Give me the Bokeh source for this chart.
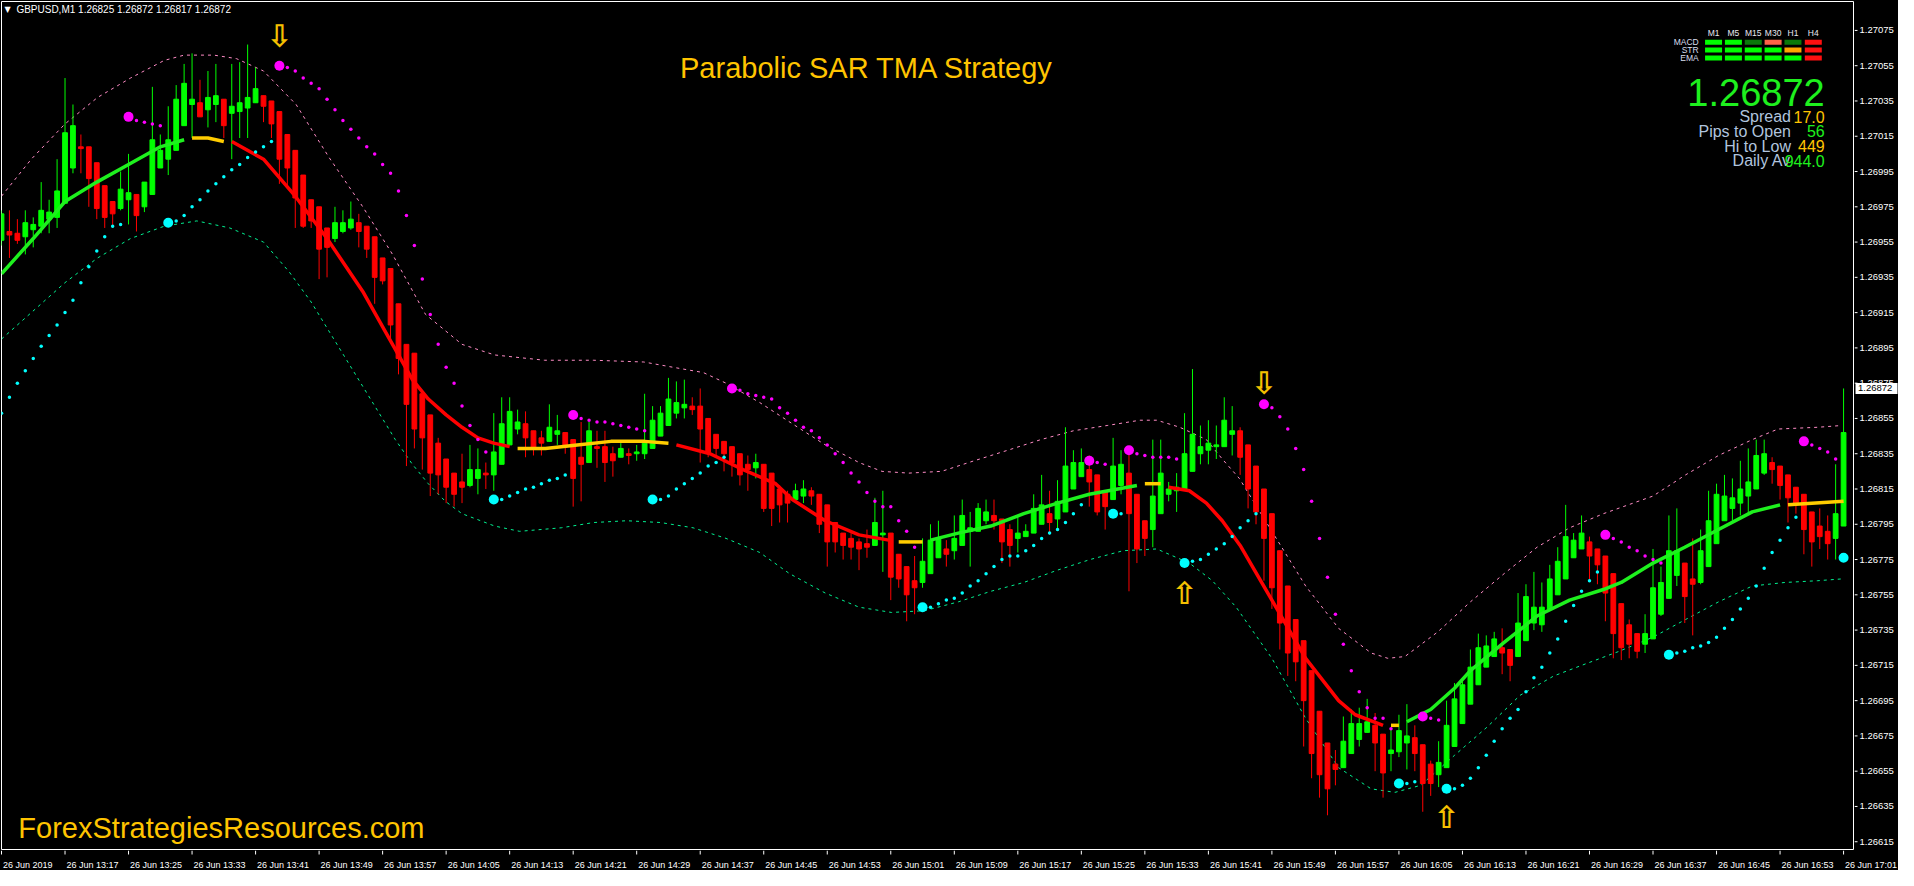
from bokeh.plotting import figure
from bokeh.layouts import column, row
from bokeh.models import Range1d, ColumnDataSource
from bokeh.core.properties import value
from bokeh.embed import file_html
from bokeh.resources import INLINE

# ---------------- data ----------------
symbol = "GBPUSD,M1"
header_ohlc = ["1.26825", "1.26872", "1.26817", "1.26872"]
chart_title = "Parabolic SAR TMA Strategy"
watermark = "ForexStrategiesResources.com"

label_bars = [0, 8, 16, 24, 32, 40, 48, 56, 64, 72, 80, 88, 96, 104, 112, 120, 128, 136,
              144, 152, 160, 168, 176, 184, 192, 200, 208, 216, 224, 232]
time_labels = ["26 Jun 2019", "26 Jun 13:17", "26 Jun 13:25", "26 Jun 13:33", "26 Jun 13:41",
               "26 Jun 13:49", "26 Jun 13:57", "26 Jun 14:05", "26 Jun 14:13", "26 Jun 14:21",
               "26 Jun 14:29", "26 Jun 14:37", "26 Jun 14:45", "26 Jun 14:53", "26 Jun 15:01",
               "26 Jun 15:09", "26 Jun 15:17", "26 Jun 15:25", "26 Jun 15:33", "26 Jun 15:41",
               "26 Jun 15:49", "26 Jun 15:57", "26 Jun 16:05", "26 Jun 16:13", "26 Jun 16:21",
               "26 Jun 16:29", "26 Jun 16:37", "26 Jun 16:45", "26 Jun 16:53", "26 Jun 17:01"]
price_ticks = [1.26615, 1.26635, 1.26655, 1.26675, 1.26695, 1.26715, 1.26735, 1.26755,
               1.26775, 1.26795, 1.26815, 1.26835, 1.26855, 1.26875, 1.26895, 1.26915,
               1.26935, 1.26955, 1.26975, 1.26995, 1.27015, 1.27035, 1.27055, 1.27075]

opens = [1.26956,1.26961,1.26960,1.26958,1.26962,1.26964,1.26968,1.26969,1.26977,1.26997,
 1.27009,1.27009,1.27000,1.26987,1.26978,1.26974,1.26979,1.26982,1.26975,1.26982,
 1.26997,1.27002,1.27007,1.27021,1.27033,1.27034,1.27030,1.27033,1.27036,1.27028,
 1.27029,1.27031,1.27034,1.27038,1.27035,1.27029,1.27016,1.27007,1.26993,1.26979,
 1.26975,1.26963,1.26957,1.26961,1.26963,1.26966,1.26964,1.26958,1.26946,1.26940,
 1.26920,1.26897,1.26892,1.26869,1.26857,1.26841,1.26832,1.26824,1.26819,1.26817,
 1.26821,1.26824,1.26823,1.26829,1.26840,1.26849,1.26852,1.26848,1.26844,1.26842,
 1.26846,1.26847,1.26843,1.26833,1.26830,1.26839,1.26839,1.26835,1.26833,1.26835,
 1.26835,1.26835,1.26838,1.26845,1.26851,1.26858,1.26861,1.26862,1.26862,1.26855,
 1.26846,1.26842,1.26839,1.26835,1.26829,1.26827,1.26829,1.26824,1.26815,1.26812,
 1.26809,1.26811,1.26814,1.26812,1.26806,1.26796,1.26790,1.26787,1.26785,1.26784,
 1.26783,1.26789,1.26790,1.26778,1.26771,1.26763,1.26762,1.26767,1.26776,1.26781,
 1.26780,1.26783,1.26791,1.26791,1.26797,1.26800,1.26798,1.26792,1.26787,1.26788,
 1.26790,1.26795,1.26801,1.26798,1.26802,1.26815,1.26822,1.26826,1.26823,1.26814,
 1.26809,1.26817,1.26824,1.26812,1.26797,1.26792,1.26801,1.26812,1.26814,1.26815,
 1.26825,1.26835,1.26837,1.26839,1.26839,1.26846,1.26848,1.26840,1.26828,1.26815,
 1.26801,1.26780,1.26760,1.26741,1.26729,1.26712,1.26689,1.26671,1.26659,1.26657,
 1.26665,1.26673,1.26677,1.26681,1.26676,1.26665,1.26666,1.26671,1.26674,1.26670,
 1.26659,1.26653,1.26657,1.26669,1.26682,1.26693,1.26704,1.26714,1.26720,1.26725,
 1.26724,1.26720,1.26729,1.26739,1.26738,1.26747,1.26755,1.26764,1.26776,1.26781,
 1.26785,1.26781,1.26777,1.26767,1.26750,1.26738,1.26733,1.26727,1.26730,1.26744,
 1.26753,1.26766,1.26773,1.26764,1.26762,1.26771,1.26784,1.26797,1.26804,1.26807,
 1.26811,1.26815,1.26824,1.26830,1.26828,1.26823,1.26816,1.26812,1.26802,1.26794,
 1.26791,1.26787,1.26794]

highs = [1.26973,1.26973,1.26968,1.26973,1.26969,1.26989,1.26979,1.27002,1.27048,1.27033,
 1.27016,1.27009,1.27000,1.26987,1.26978,1.26995,1.27005,1.26982,1.26989,1.27043,
 1.27016,1.27032,1.27044,1.27056,1.27062,1.27047,1.27052,1.27056,1.27036,1.27056,
 1.27057,1.27067,1.27054,1.27038,1.27035,1.27029,1.27016,1.27007,1.26993,1.26979,
 1.26975,1.26963,1.26975,1.26973,1.26978,1.26971,1.26964,1.26958,1.26946,1.26940,
 1.26920,1.26897,1.26892,1.26869,1.26857,1.26844,1.26832,1.26824,1.26835,1.26840,
 1.26838,1.26830,1.26858,1.26867,1.26867,1.26860,1.26859,1.26848,1.26848,1.26863,
 1.26857,1.26847,1.26843,1.26853,1.26853,1.26848,1.26848,1.26839,1.26841,1.26838,
 1.26840,1.26869,1.26862,1.26862,1.26878,1.26876,1.26877,1.26867,1.26872,1.26855,
 1.26846,1.26842,1.26839,1.26835,1.26834,1.26835,1.26829,1.26824,1.26817,1.26814,
 1.26818,1.26820,1.26816,1.26812,1.26806,1.26796,1.26790,1.26790,1.26787,1.26792,
 1.26810,1.26814,1.26790,1.26778,1.26771,1.26777,1.26787,1.26795,1.26797,1.26786,
 1.26800,1.26809,1.26802,1.26807,1.26809,1.26809,1.26798,1.26795,1.26800,1.26795,
 1.26812,1.26823,1.26814,1.26820,1.26850,1.26837,1.26838,1.26834,1.26823,1.26814,
 1.26844,1.26837,1.26837,1.26812,1.26797,1.26843,1.26843,1.26819,1.26824,1.26858,
 1.26883,1.26851,1.26854,1.26851,1.26867,1.26862,1.26850,1.26840,1.26828,1.26815,
 1.26801,1.26780,1.26760,1.26741,1.26729,1.26712,1.26689,1.26671,1.26667,1.26686,
 1.26690,1.26691,1.26696,1.26688,1.26676,1.26679,1.26687,1.26693,1.26681,1.26670,
 1.26661,1.26672,1.26695,1.26705,1.26706,1.26724,1.26733,1.26732,1.26734,1.26736,
 1.26724,1.26756,1.26761,1.26768,1.26762,1.26772,1.26782,1.26806,1.26790,1.26800,
 1.26788,1.26781,1.26777,1.26767,1.26750,1.26741,1.26733,1.26744,1.26781,1.26771,
 1.26800,1.26804,1.26773,1.26787,1.26792,1.26814,1.26818,1.26823,1.26821,1.26831,
 1.26838,1.26843,1.26843,1.26833,1.26828,1.26823,1.26816,1.26812,1.26802,1.26804,
 1.26800,1.26829,1.26872]

lows = [1.26953,1.26946,1.26954,1.26948,1.26952,1.26960,1.26960,1.26963,1.26977,1.26994,
 1.26994,1.26975,1.26968,1.26963,1.26963,1.26973,1.26965,1.26961,1.26972,1.26982,
 1.26997,1.26993,1.27007,1.27021,1.27014,1.27026,1.27020,1.27023,1.27014,1.27002,
 1.27014,1.27014,1.27034,1.27023,1.27014,1.26988,1.26987,1.26963,1.26963,1.26963,
 1.26934,1.26935,1.26955,1.26960,1.26962,1.26952,1.26946,1.26920,1.26931,1.26900,
 1.26880,1.26828,1.26838,1.26826,1.26811,1.26812,1.26807,1.26805,1.26807,1.26816,
 1.26812,1.26815,1.26814,1.26829,1.26840,1.26846,1.26833,1.26834,1.26834,1.26842,
 1.26840,1.26835,1.26805,1.26808,1.26830,1.26827,1.26819,1.26822,1.26833,1.26829,
 1.26831,1.26832,1.26838,1.26845,1.26851,1.26855,1.26855,1.26857,1.26830,1.26833,
 1.26834,1.26825,1.26822,1.26817,1.26814,1.26821,1.26802,1.26794,1.26796,1.26796,
 1.26809,1.26807,1.26806,1.26790,1.26771,1.26779,1.26775,1.26775,1.26769,1.26776,
 1.26783,1.26768,1.26752,1.26759,1.26740,1.26744,1.26759,1.26767,1.26776,1.26771,
 1.26775,1.26783,1.26771,1.26791,1.26795,1.26792,1.26773,1.26771,1.26779,1.26788,
 1.26790,1.26795,1.26789,1.26792,1.26802,1.26815,1.26822,1.26805,1.26800,1.26792,
 1.26809,1.26812,1.26757,1.26773,1.26777,1.26782,1.26801,1.26808,1.26802,1.26815,
 1.26825,1.26829,1.26829,1.26832,1.26839,1.26834,1.26823,1.26804,1.26795,1.26763,
 1.26747,1.26724,1.26709,1.26706,1.26669,1.26651,1.26640,1.26630,1.26647,1.26657,
 1.26665,1.26669,1.26677,1.26655,1.26640,1.26655,1.26663,1.26656,1.26655,1.26632,
 1.26641,1.26646,1.26657,1.26669,1.26682,1.26693,1.26704,1.26714,1.26720,1.26710,
 1.26706,1.26720,1.26729,1.26735,1.26734,1.26747,1.26755,1.26764,1.26776,1.26781,
 1.26763,1.26761,1.26740,1.26719,1.26718,1.26719,1.26719,1.26722,1.26730,1.26743,
 1.26753,1.26760,1.26739,1.26732,1.26761,1.26771,1.26784,1.26797,1.26797,1.26800,
 1.26801,1.26815,1.26823,1.26818,1.26809,1.26796,1.26801,1.26778,1.26771,1.26781,
 1.26775,1.26775,1.26794]

closes = [1.26971,1.26959,1.26956,1.26966,1.26965,1.26973,1.26972,1.26984,1.27017,1.27021,
 1.27008,1.26991,1.26974,1.26969,1.26971,1.26985,1.26983,1.26970,1.26989,1.27013,
 1.27007,1.27013,1.27036,1.27045,1.27036,1.27026,1.27037,1.27038,1.27021,1.27032,
 1.27034,1.27037,1.27042,1.27032,1.27022,1.27002,1.26997,1.26980,1.26964,1.26967,
 1.26951,1.26952,1.26966,1.26966,1.26968,1.26961,1.26951,1.26935,1.26933,1.26908,
 1.26889,1.26863,1.26849,1.26844,1.26824,1.26823,1.26816,1.26812,1.26816,1.26826,
 1.26826,1.26823,1.26836,1.26852,1.26859,1.26853,1.26844,1.26838,1.26841,1.26850,
 1.26848,1.26839,1.26821,1.26829,1.26848,1.26838,1.26830,1.26831,1.26838,1.26834,
 1.26836,1.26841,1.26854,1.26858,1.26866,1.26864,1.26863,1.26860,1.26849,1.26836,
 1.26838,1.26835,1.26830,1.26823,1.26826,1.26830,1.26804,1.26804,1.26806,1.26807,
 1.26814,1.26815,1.26811,1.26795,1.26785,1.26785,1.26783,1.26782,1.26781,1.26782,
 1.26796,1.26790,1.26765,1.26764,1.26755,1.26759,1.26774,1.26786,1.26787,1.26778,
 1.26787,1.26800,1.26793,1.26804,1.26802,1.26797,1.26785,1.26783,1.26790,1.26791,
 1.26804,1.26806,1.26796,1.26808,1.26828,1.26830,1.26830,1.26819,1.26802,1.26805,
 1.26828,1.26829,1.26801,1.26781,1.26787,1.26811,1.26824,1.26815,1.26816,1.26835,
 1.26846,1.26839,1.26841,1.26840,1.26854,1.26848,1.26833,1.26815,1.26802,1.26787,
 1.26759,1.26739,1.26722,1.26717,1.26695,1.26665,1.26653,1.26645,1.26656,1.26672,
 1.26682,1.26682,1.26683,1.26671,1.26654,1.26667,1.26678,1.26675,1.26665,1.26648,
 1.26648,1.26660,1.26681,1.26696,1.26704,1.26714,1.26725,1.26726,1.26730,1.26722,
 1.26715,1.26739,1.26754,1.26748,1.26748,1.26764,1.26774,1.26788,1.26786,1.26790,
 1.26777,1.26772,1.26756,1.26733,1.26725,1.26727,1.26723,1.26733,1.26759,1.26762,
 1.26780,1.26780,1.26754,1.26761,1.26780,1.26797,1.26812,1.26811,1.26810,1.26815,
 1.26819,1.26834,1.26835,1.26826,1.26817,1.26810,1.26807,1.26792,1.26785,1.26788,
 1.26784,1.26801,1.26847]

sar = [1.26858,1.26867,1.26875,1.26882,1.26889,1.26896,1.26902,1.26908,1.26915,1.26922,
 1.26932,1.26941,1.26950,1.26958,1.26964,1.26965,1.27026,1.27024,1.27023,1.27022,
 1.27021,1.26966,1.26967,1.26970,1.26975,1.26979,1.26984,1.26988,1.26992,1.26996,
 1.26999,1.27003,1.27006,1.27009,1.27012,1.27055,1.27054,1.27052,1.27048,1.27045,
 1.27042,1.27036,1.27030,1.27024,1.27019,1.27014,1.27009,1.27005,1.26999,1.26994,
 1.26984,1.26970,1.26953,1.26934,1.26914,1.26897,1.26884,1.26875,1.26862,1.26851,
 1.26843,1.26836,1.26809,1.26809,1.26811,1.26813,1.26815,1.26816,1.26818,1.26820,
 1.26821,1.26823,1.26857,1.26855,1.26854,1.26853,1.26853,1.26852,1.26851,1.26850,
 1.26849,1.26848,1.26809,1.26809,1.26811,1.26815,1.26818,1.26821,1.26824,1.26828,
 1.26830,1.26833,1.26872,1.26871,1.26869,1.26868,1.26867,1.26866,1.26861,1.26858,
 1.26854,1.26850,1.26848,1.26844,1.26840,1.26835,1.26830,1.26824,1.26819,1.26813,
 1.26808,1.26805,1.26805,1.26797,1.26791,1.26782,1.26748,1.26748,1.26750,1.26752,
 1.26753,1.26756,1.26760,1.26763,1.26767,1.26771,1.26775,1.26777,1.26777,1.26780,
 1.26783,1.26787,1.26790,1.26792,1.26796,1.26801,1.26806,1.26831,1.26830,1.26829,
 1.26801,1.26801,1.26837,1.26835,1.26834,1.26833,1.26833,1.26833,1.26832,1.26773,
 1.26774,1.26775,1.26778,1.26781,1.26784,1.26788,1.26793,1.26797,1.26801,1.26863,
 1.26861,1.26856,1.26849,1.26838,1.26826,1.26808,1.26787,1.26765,1.26744,1.26727,
 1.26712,1.26700,1.26691,1.26685,1.26685,1.26679,1.26648,1.26648,1.26649,1.26686,
 1.26685,1.26684,1.26645,1.26645,1.26647,1.26651,1.26657,1.26664,1.26672,1.26679,
 1.26685,1.26690,1.26700,1.26708,1.26714,1.26722,1.26730,1.26740,1.26749,1.26757,
 1.26763,1.26768,1.26789,1.26787,1.26785,1.26782,1.26780,1.26777,1.26775,1.26773,
 1.26721,1.26722,1.26723,1.26725,1.26726,1.26728,1.26731,1.26736,1.26741,1.26747,
 1.26753,1.26760,1.26770,1.26779,1.26786,1.26793,1.26799,1.26842,1.26840,1.26838,
 1.26836,1.26832,1.26776]

# TMA centre line, read at points along the curve; one colour state per segment
tma_bars = [0, 4, 8, 12, 16, 20, 23,
            24, 26, 28,
            29, 33, 37, 41, 45.5, 48.5, 51.75, 53.75, 56, 58, 60, 62, 64,
            65, 68.5, 72.5, 76.75, 81, 84,
            85, 89.25, 93.4, 97.5, 99.6, 103.75, 108, 111.75,
            113, 116,
            117, 120.5, 124.6, 128.75, 133, 137, 143,
            144, 146,
            147, 149.6, 151.75, 153.75, 156, 160, 164.25, 168.4, 170.5, 174,
            175, 176,
            177, 180, 183, 185, 189.25, 193.4, 197.5, 201.75, 204, 208, 212, 216.25, 220.5, 224,
            225, 232]
tma_prices = [1.26937, 1.26957, 1.26978, 1.26989, 1.26999, 1.27009, 1.27013,
              1.27014, 1.27014, 1.27012,
              1.27012, 1.27002, 1.26981, 1.26957, 1.26927, 1.26903, 1.26877, 1.26866, 1.26857, 1.26850, 1.26844, 1.26841, 1.26839,
              1.26838, 1.26838, 1.26840, 1.26842, 1.26842, 1.26841,
              1.26840, 1.26835, 1.26826, 1.26818, 1.26809, 1.26797, 1.26789, 1.26786,
              1.26785, 1.26785,
              1.26786, 1.26790, 1.26794, 1.26801, 1.26807, 1.26812, 1.26817,
              1.26818, 1.26818,
              1.26816, 1.26814, 1.26807, 1.26797, 1.26783, 1.26752, 1.26719, 1.26695, 1.26687, 1.26681,
              1.26681, 1.26681,
              1.26683, 1.26690, 1.26702, 1.26712, 1.26728, 1.26743, 1.26752, 1.26758, 1.26762, 1.26773, 1.26782, 1.26792, 1.26802, 1.26806,
              1.26806, 1.26808]
tma_segment_state = ["up", "flat", "down", "flat", "down", "flat", "up", "flat", "down", "flat", "up", "flat"]
tma_segment_len = [7, 3, 13, 6, 8, 2, 7, 2, 10, 2, 14, 2]

upper_bars = [0, 3.75, 8, 12.1, 16.25, 20.5, 23, 26.75, 29.6, 33, 37.1, 41.25, 45.5, 49.25, 53.4, 58,
              62.1, 68.4, 74.6, 80.9, 84.6, 88.4, 91.25, 95.5, 99.6, 103.75, 108, 110.9, 114.25, 118.4,
              122.5, 126.75, 130.9, 135, 139.25, 143.4, 145.5, 148.4, 151.75, 153.75, 155.9, 160, 164.25,
              168.4, 172.5, 174.6, 176.75, 180.9, 185, 189.25, 193.4, 197.5, 201.75, 208, 212.1, 216.25,
              220.5, 223.75, 228.75, 231.75]
upper_prices = [1.26981, 1.27002, 1.27022, 1.27037, 1.27048, 1.27058, 1.27061, 1.27061, 1.27059, 1.27052,
                1.27033, 1.27003, 1.26975, 1.26948, 1.26914, 1.26897, 1.26891, 1.26888, 1.26888, 1.26887,
                1.26884, 1.26881, 1.26875, 1.26864, 1.26852, 1.26840, 1.26830, 1.26825, 1.26824, 1.26825,
                1.26831, 1.26837, 1.26843, 1.26848, 1.26851, 1.26854, 1.26854, 1.26850, 1.26843, 1.26832,
                1.26821, 1.26791, 1.26760, 1.26736, 1.26722, 1.26719, 1.26720, 1.26734, 1.26751, 1.26767,
                1.26782, 1.26793, 1.26801, 1.26811, 1.26823, 1.26834, 1.26843, 1.26849, 1.26850, 1.26851]
lower_bars = [0, 5, 8, 12.1, 16.25, 20.5, 24.6, 28.75, 33, 36.25, 39, 49.6, 51.75, 53.75, 55.9, 58,
              62.1, 65.25, 70.5, 74.6, 78.75, 83, 87.1, 91.25, 95.5, 99.25, 103.75, 108, 112.1, 116.25,
              120.5, 124.6, 128.75, 133, 137.1, 141.25, 145.5, 149.6, 152.5, 155.5, 160, 164.25, 168.4,
              172.5, 175.5, 178.75, 183, 187.1, 191.25, 195.5, 199.6, 203.75, 208, 212.1, 216.25, 220.5,
              224.6, 228.75, 231.75]
lower_prices = [1.26900, 1.26920, 1.26932, 1.26946, 1.26957, 1.26964, 1.26967, 1.26963, 1.26955, 1.26938,
                1.26921, 1.26843, 1.26829, 1.26818, 1.26808, 1.26801, 1.26794, 1.26791, 1.26793, 1.26796,
                1.26797, 1.26796, 1.26793, 1.26787, 1.26779, 1.26767, 1.26756, 1.26748, 1.26745, 1.26746,
                1.26751, 1.26757, 1.26762, 1.26769, 1.26775, 1.26780, 1.26781, 1.26773, 1.26763, 1.26748,
                1.26719, 1.26685, 1.26657, 1.26645, 1.26643, 1.26647, 1.26664, 1.26680, 1.26698, 1.26709,
                1.26716, 1.26723, 1.26731, 1.26741, 1.26751, 1.26760, 1.26762, 1.26763, 1.26764]

arrow_bars = [35, 149, 159, 182]
arrow_prices = [1.27072, 1.26756, 1.26875, 1.26629]
arrow_dirs = ["down", "up", "down", "up"]

tf_names = ["M1", "M5", "M15", "M30", "H1", "H4"]
signal_rows = ["MACD", "STR", "EMA"]
macd_state = ["up", "up", "weak_up", "weak_down", "weak_up", "down"]
str_state = ["up", "up", "up", "up", "neutral", "down"]
ema_state = ["up", "up", "up", "up", "up", "down"]
last_price = "1.26872"
info_names = ["Spread", "Pips to Open", "Hi to Low", "Daily Av"]
info_values = ["17.0", "56", "449", "944.0"]
info_kind = ["gold", "green", "gold", "green"]

# ---------------- styling / layout ----------------
W = 1898            # whole page width used
WA = 44             # price-scale column
WM = W - WA         # chart column
H_MAIN = 850
H_STRIP = 20
N_VIEW = 233.25
Y_TOP, Y_BOT = 1.270914, 1.266106
UP, DOWN = "#00FF00", "#FF0000"
GOLD = "#FFC400"
FONT = value("Liberation Sans")


def bx(px):   # reference-picture x pixel -> bar coordinate
    return (px - 3) / 8.0


def py(pv):   # reference-picture y pixel -> price coordinate
    return 1.270925 - 0.000005578 * pv


yr = Range1d(Y_BOT, Y_TOP)
p = figure(width=WM, height=H_MAIN, x_range=Range1d(0, N_VIEW), y_range=yr,
           output_backend="svg", toolbar_location=None, x_axis_location=None, y_axis_location=None,
           min_border_left=1, min_border_right=1, min_border_top=1, min_border_bottom=1,
           background_fill_color="black", border_fill_color="black", outline_line_color="white")
p.grid.visible = False

# bands
p.line(upper_bars, upper_prices, line_color="#FF8CC6", line_width=1, line_dash="3 4")
p.line(lower_bars, lower_prices, line_color="#00F090", line_width=1, line_dash="3 4")

# candles
n = len(opens)
xs = list(range(n))
cols = [UP if c >= o else DOWN for o, c in zip(opens, closes)]
src = ColumnDataSource(dict(x=xs, h=highs, l=lows,
                            top=[max(o, c) for o, c in zip(opens, closes)],
                            bot=[min(o, c) for o, c in zip(opens, closes)], col=cols))
p.segment(x0="x", y0="h", x1="x", y1="l", line_color="col", line_width=1, source=src)
p.vbar(x="x", width=0.6, top="top", bottom="bot", fill_color="col", line_color="col",
       line_width=1, source=src)

# TMA
tma_colors = {"up": "#1EF01E", "flat": "#FFCC00", "down": "#FF0000"}
k = 0
for st, ln in zip(tma_segment_state, tma_segment_len):
    p.line(tma_bars[k:k + ln], tma_prices[k:k + ln], line_color=tma_colors[st], line_width=3.5)
    k += ln

# Parabolic SAR
above = [s > c for s, c in zip(sar, closes)]
sar_col = ["#FF00FF" if a else "#00FFFF" for a in above]
p.scatter(xs, sar, marker="circle", size=3.5, fill_color=sar_col, line_color=None)
start_idx = [i for i in range(1, n) if above[i] != above[i - 1]]
p.scatter([xs[i] for i in start_idx], [sar[i] for i in start_idx], marker="circle", size=10,
          fill_color=[sar_col[i] for i in start_idx], line_color=None)

# arrows
p.text(arrow_bars, arrow_prices, text=["\u21e9" if d == "down" else "\u21e7" for d in arrow_dirs],
       text_font=value("DejaVu Sans"), text_font_size="31px", text_font_style="bold",
       text_color="#F5C000", text_align="center", text_baseline="middle")

# header
p.text([bx(9)], [py(10)], text=["\u25bc"], text_font=value("DejaVu Sans"), text_font_size="8px",
       text_color="white", text_align="center", text_baseline="middle")
p.text([bx(18)], [py(10)], text=[symbol + "  " + " ".join(header_ohlc)], text_font=FONT,
       text_font_size="10px", text_color="white", text_align="left", text_baseline="middle")

# title and watermark
p.text([bx(875)], [py(70)], text=[chart_title], text_font=FONT, text_font_size="29px",
       text_color=GOLD, text_align="center", text_baseline="alphabetic")
p.text([bx(20)], [py(842)], text=[watermark], text_font=FONT, text_font_size="29px",
       text_color=GOLD, text_align="left", text_baseline="alphabetic")

# signal panel
col_px = [1728, 1748, 1768, 1788, 1808, 1828.5]
row_px = [43.5, 51.3, 59.3]
state_col = {"up": "#00FF00", "weak_up": "#0A7A0A", "weak_down": "#FF6347",
             "neutral": "#FFA500", "down": "#FF1010"}
rx, ry, rc = [], [], []
for r, states in enumerate([macd_state, str_state, ema_state]):
    for c, st in enumerate(states):
        rx.append(bx(col_px[c]))
        ry.append(py(row_px[r]))
        rc.append(state_col[st])
p.rect(rx, ry, width=17, height=5, width_units="screen", height_units="screen",
       fill_color=rc, line_color=None)
p.text([bx(x) for x in col_px], [py(34)] * len(tf_names), text=tf_names, text_font=FONT,
       text_font_size="8.5px", text_color="#E8E8F0", text_align="center", text_baseline="middle")
p.text([bx(1713)] * 3, [py(y) for y in row_px], text=signal_rows, text_font=FONT,
       text_font_size="8.5px", text_color="#D8DEEE", text_align="right", text_baseline="middle")
p.text([bx(1840)], [py(94)], text=[last_price], text_font=FONT, text_font_size="38px",
       text_color="#1EF01E", text_align="right", text_baseline="alphabetic")
info_base = [119, 134, 149, 164]
p.text([bx(1806)] * 4, [py(y) for y in info_base], text=info_names, text_font=FONT,
       text_font_size="16px", text_color="#B0C4DE", text_align="right", text_baseline="alphabetic")
p.text([bx(1840)] * 4, [py(y) for y in info_base], text=info_values, text_font=FONT,
       text_font_size="16px", text_color=[GOLD if k2 == "gold" else "#1EF01E" for k2 in info_kind],
       text_align="right", text_baseline="alphabetic")

# ---------------- price scale column ----------------
a = figure(width=WA, height=H_MAIN, x_range=Range1d(0, WA), y_range=yr,
           output_backend="svg", toolbar_location=None, x_axis_location=None, y_axis_location=None,
           min_border_left=0, min_border_right=0, min_border_top=1, min_border_bottom=1,
           background_fill_color="black", border_fill_color="black", outline_line_color=None)
a.grid.visible = False
nt = len(price_ticks)
a.segment(x0=[0] * nt, y0=price_ticks, x1=[3] * nt, y1=price_ticks, line_color="white", line_width=1)
a.text([5] * nt, price_ticks, text=["%.5f" % t for t in price_ticks], text_font=FONT,
       text_font_size="9.5px", text_color="white", text_align="left", text_baseline="middle")
a.rect([22], [float(last_price)], width=42, height=11, height_units="screen",
       fill_color="white", line_color=None)
a.text([3.5], [float(last_price)], text=[last_price], text_font=FONT, text_font_size="9.5px",
       text_color="black", text_align="left", text_baseline="middle")

# ---------------- time scale strip ----------------
scale = N_VIEW / (WM - 2)
s = figure(width=W, height=H_STRIP, x_range=Range1d(-1 * scale, (W - 1) * scale),
           y_range=Range1d(0, H_STRIP), output_backend="svg", toolbar_location=None,
           x_axis_location=None, y_axis_location=None, min_border=0,
           background_fill_color="black", border_fill_color="black", outline_line_color=None)
s.grid.visible = False
m = len(label_bars)
s.segment(x0=label_bars, y0=[H_STRIP] * m, x1=label_bars, y1=[H_STRIP - 4] * m,
          line_color="white", line_width=1)
s.text([b + 1.5 * scale for b in label_bars], [6] * m, text=time_labels, text_font=FONT,
       text_font_size="9px", text_color="white", text_align="left", text_baseline="alphabetic")

layout = column(row(p, a, spacing=0), s, spacing=0, styles={"background-color": "black"})
open("out.html", "w").write(file_html(layout, INLINE))
